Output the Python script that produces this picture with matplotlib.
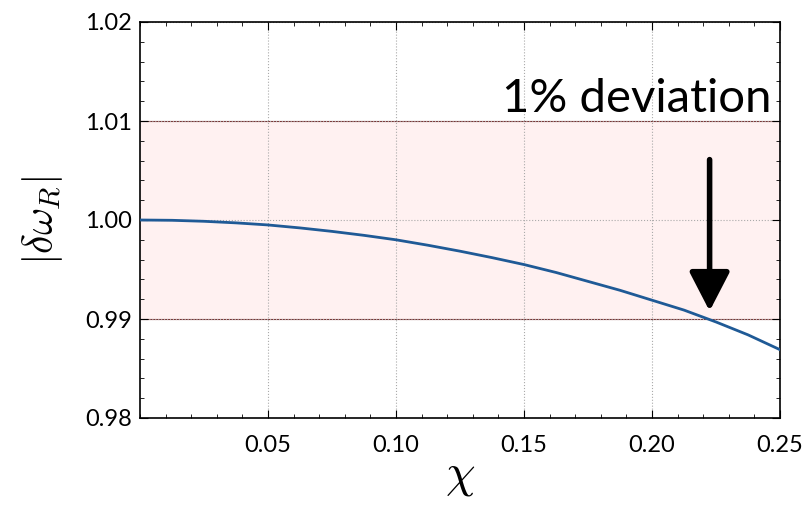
import matplotlib
matplotlib.use("Agg")
import matplotlib.pyplot as plt
from matplotlib.ticker import MultipleLocator
import numpy as np

plt.rcParams['font.family'] = ['Lato', 'DejaVu Sans']
plt.rcParams['mathtext.fontset'] = 'cm'

chi = [0.0, 0.0125, 0.025, 0.0375, 0.05, 0.0625, 0.075, 0.0875, 0.10, 0.1125,
       0.125, 0.1375, 0.15, 0.1625, 0.175, 0.1875, 0.20, 0.2125, 0.225, 0.2375, 0.25]
domega = [1.0, 0.99997, 0.99987, 0.99971, 0.9995, 0.9992, 0.99885, 0.99845, 0.9980, 0.99745,
          0.99685, 0.9962, 0.9955, 0.9947, 0.9938, 0.9929, 0.9919, 0.9909, 0.9897, 0.9884, 0.9869]

band_low, band_high = 0.99, 1.01
arrow_x = 0.2225
arrow_top, arrow_tip = 1.0061, 0.9908

fig = plt.figure(figsize=(8.11, 5.09), dpi=100)
ax = fig.add_axes([140/811, 1-418/509, 640/811, 396/509])

ax.axhspan(band_low, band_high, color='#fff1f1', zorder=0)
ax.axhline(band_low, color='#7a3535', lw=0.8, zorder=1)
ax.axhline(band_high, color='#7a3535', lw=0.8, zorder=1)

ax.plot(chi, domega, color='#1f5a96', lw=2.0, zorder=3)

ax.annotate('', xy=(arrow_x, arrow_tip), xytext=(arrow_x, arrow_top),
            arrowprops=dict(arrowstyle='-|>,head_length=1.2,head_width=0.62',
                            mutation_scale=20, color='black', lw=4,
                            capstyle='round', shrinkA=0, shrinkB=0), zorder=4)

ax.text(0.2465, 1.0101, '1% deviation', fontsize=34, ha='right', va='bottom', zorder=5)

ax.set_xlim(0, 0.25)
ax.set_ylim(0.98, 1.02)
ax.set_xticks([0.05, 0.10, 0.15, 0.20, 0.25])
ax.set_xticklabels(['0.05', '0.10', '0.15', '0.20', '0.25'])
ax.set_yticks([0.98, 0.99, 1.00, 1.01, 1.02])
ax.set_yticklabels(['0.98', '0.99', '1.00', '1.01', '1.02'])
ax.xaxis.set_minor_locator(MultipleLocator(0.01))
ax.yaxis.set_minor_locator(MultipleLocator(0.002))
ax.tick_params(which='both', direction='in', top=True, right=True, labelsize=17)
ax.tick_params(which='major', length=6, width=0.8)
ax.tick_params(which='minor', length=3, width=0.6)
ax.tick_params(axis='x', pad=12)
ax.tick_params(axis='y', pad=6)
ax.grid(True, which='major', ls=':', color='#aaaaaa', lw=0.8)
for s in ax.spines.values():
    s.set_linewidth(1.2)

ax.set_xlabel(r'$\chi$', fontsize=34, labelpad=0)
ax.set_ylabel(r'$|\delta\omega_R|$', fontsize=30, labelpad=14)

fig.savefig('out.png', dpi=100)
